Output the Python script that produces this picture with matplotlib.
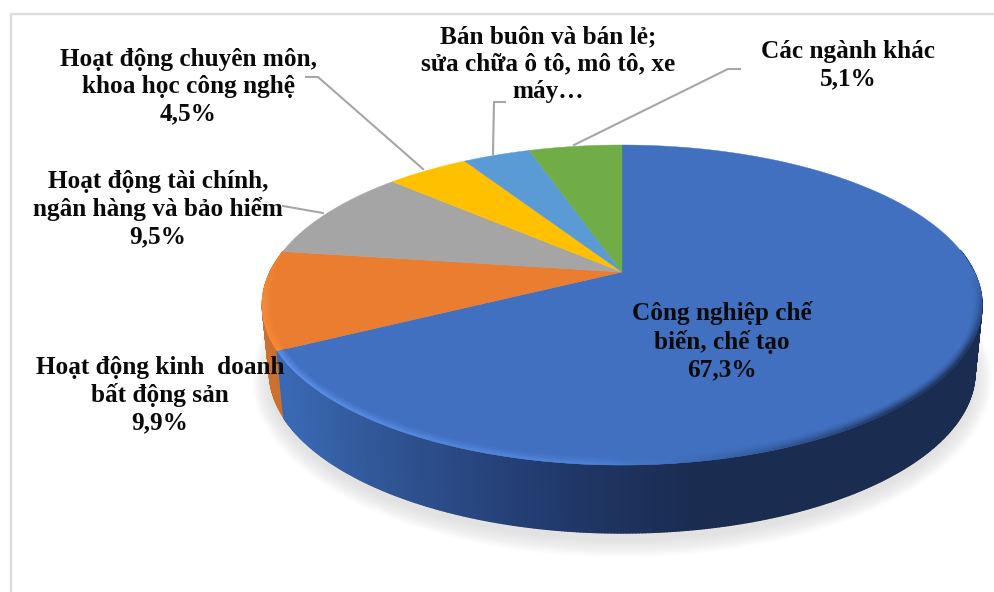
import numpy as np
import matplotlib

matplotlib.use("Agg")
import matplotlib.pyplot as plt
from matplotlib.collections import PolyCollection
from matplotlib.colors import LinearSegmentedColormap, to_rgb
from matplotlib.patches import Ellipse

# clockwise from 12 o'clock
sectors = [
    "Công nghiệp chế\nbiến, chế tạo",
    "Hoạt động kinh  doanh\nbất động sản",
    "Hoạt động tài chính,\nngân hàng và bảo hiểm",
    "Hoạt động chuyên môn,\nkhoa học công nghệ",
    "Bán buôn và bán lẻ;\nsửa chữa ô tô, mô tô, xe\nmáy…",
    "Các ngành khác",
]
shares = [67.3, 9.9, 9.5, 4.5, 3.7, 5.1]
show_share = [True, True, True, True, False, True]
colors = ["#4170C0", "#EB7D30", "#A5A5A5", "#FFC000", "#5B9BD5", "#70AD47"]

# label centres and leader lines, in pixels
label_pos = [(722, 341), (160, 395), (158, 209), (188, 87), (548, 64), (848, 65)]
leaders = [
    [(306, 77), (318, 77), (423, 169)],
    [(283, 206), (323, 213)],
    [(505, 102), (494, 102), (493, 154)],
    [(740, 69), (728, 69), (574, 145)],
]

# pie geometry, pixels
CX, CY, RX, RY = 622, 305, 360, 160
BOT_CY, BOT_RX, BOT_RY = 372, 353, 161
APEX_Y = 272
RIM = 9
a = (CY - APEX_Y) / RY
K = np.sqrt((1 - a) / (1 + a))  # perspective squeeze of the angles


def persp(theta):
    return 2 * np.arctan2(K * np.sin(theta / 2), np.cos(theta / 2))


def pt(phi, cy=CY, rx=RX, ry=RY):
    return np.column_stack([CX + rx * np.sin(phi), cy - ry * np.cos(phi)])


def strips(p1, p2):
    return [np.vstack([p1[i], p1[i + 1], p2[i + 1], p2[i]]) for i in range(len(p1) - 1)]


def mix(c1, c2, t):
    return tuple((1 - t) * np.array(to_rgb(c1)) + t * np.array(to_rgb(c2)))


edges = 2 * np.pi * np.concatenate([[0], np.cumsum(shares)]) / sum(shares)
phi_edges = persp(edges)

fig = plt.figure(figsize=(9.94, 5.92), dpi=100)
ax = fig.add_axes([0, 0, 1, 1])
ax.set_xlim(0, 994)
ax.set_ylim(592, 0)
ax.axis("off")

# frame left and top
ax.plot([10.5, 10.5, 994], [592, 14.3, 14.3], color="#DDDDDD", lw=1.7, zorder=1)

# soft shadow
for grow in np.linspace(17, 0, 12):
    ax.add_patch(Ellipse((CX, BOT_CY + 7), 2 * (BOT_RX + grow), 2 * (BOT_RY + grow),
                         fc="#A8A8A8", ec="none", alpha=0.028, zorder=1.5))

# side walls
blue_side = LinearSegmentedColormap.from_list(
    "b", ["#3A69B4", "#2F5593", "#27437C", "#1F3563", "#1A2C50", "#1A2C50"])
phi = np.linspace(phi_edges[0], phi_edges[1], 500)
phi = phi[phi > np.radians(70)]
top, bot = pt(phi), pt(phi, BOT_CY, BOT_RX, BOT_RY)
t = np.clip((top[:-1, 0] - 285) / (800 - 285), 0, 1)
cols = blue_side(t)

phi_o = np.linspace(phi_edges[1], phi_edges[2], 100)
phi_o = phi_o[phi_o < np.radians(290)]
ax.add_collection(PolyCollection(strips(pt(phi_o), pt(phi_o, BOT_CY, BOT_RX, BOT_RY)),
                                 facecolors="#CC702E", edgecolors="#CC702E", lw=0.5, zorder=2))
ax.add_collection(PolyCollection(strips(top, bot), facecolors=cols, edgecolors=cols, lw=1.0, zorder=2.1))

# top faces
for i, col in enumerate(colors):
    arc = pt(np.linspace(phi_edges[i], phi_edges[i + 1], 300))
    ax.fill(np.r_[CX, arc[:, 0]], np.r_[APEX_Y, arc[:, 1]], color=col, lw=0.3, zorder=3)

# bevel, blue slice
knots = np.radians([78, 105, 130, 165, 185, 254])
rim_cols = ["#4170C0", "#1E3562", "#1E3562", "#3A66AE", "#4F82DA", "#5F92EA"]
rgb = np.array([to_rgb(c) for c in rim_cols])
phi = np.linspace(np.radians(78), phi_edges[1], 300)
steps = 8
for j in range(steps):
    f1, f2 = j / steps, (j + 1) / steps
    inner = pt(phi, CY, RX - RIM * (1 - f1), RY - RIM * (1 - f1))
    outer = pt(phi, CY, RX - RIM * (1 - f2), RY - RIM * (1 - f2))
    w = f2 ** 1.5
    edge = np.column_stack([np.interp(phi[:-1], knots, rgb[:, k]) for k in range(3)])
    c = (1 - w) * np.array(to_rgb(colors[0])) + w * edge
    ax.add_collection(PolyCollection(strips(inner, outer), facecolors=c, edgecolors=c, lw=0.3, zorder=3.2))

# bevel, orange slice
phi = np.linspace(phi_edges[1], phi_edges[2], 80)
fade = np.clip((phi_edges[2] - phi[:-1]) / np.radians(18), 0, 1)
for j in range(steps):
    f1, f2 = j / steps, (j + 1) / steps
    inner = pt(phi, CY, RX - RIM * (1 - f1), RY - RIM * (1 - f1))
    outer = pt(phi, CY, RX - RIM * (1 - f2), RY - RIM * (1 - f2))
    c = [mix(colors[1], "#F88A3B", v * f2) for v in fade]
    ax.add_collection(PolyCollection(strips(inner, outer), facecolors=c, edgecolors=c, lw=0.3, zorder=3.2))

# labels
for name, share, show, (x, y) in zip(sectors, shares, show_share, label_pos):
    txt = name
    if show:
        txt += "\n" + f"{share:.1f}%".replace(".", ",")
    ax.text(x, y, txt, ha="center", va="center", ma="center", family="Liberation Serif",
            weight="bold", fontsize=18.2, linespacing=1.234, color="#0A0A0A", zorder=6)

for line in leaders:
    xs, ys = zip(*line)
    ax.plot(xs, ys, color="#A6A6A6", lw=1.5, zorder=5)

fig.savefig("out.png", dpi=100)
